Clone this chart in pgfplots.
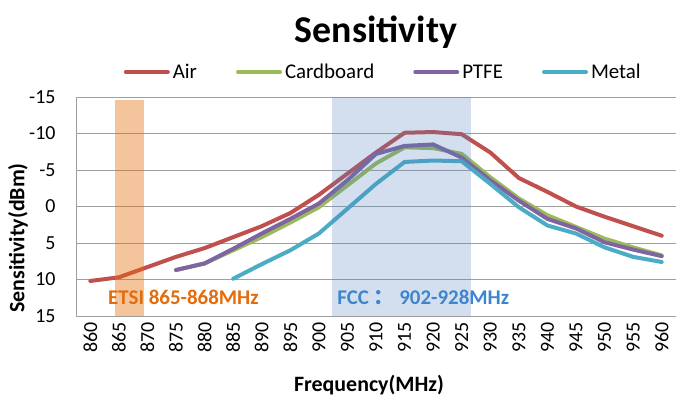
\documentclass[border=0pt]{standalone}
\usepackage{pgfplots}
\pgfplotsset{compat=1.18}
\usepackage{fontspec}
\setmainfont{Carlito}
\newfontfamily\cjk{Noto Sans CJK SC}
\definecolor{cAir}{HTML}{C0504D}
\definecolor{cCard}{HTML}{9BBB59}
\definecolor{cPTFE}{HTML}{8064A2}
\definecolor{cMetal}{HTML}{4BACC6}
\definecolor{cOrange}{HTML}{E46C0A}
\definecolor{cBand}{HTML}{4F81BD}
\definecolor{cFCC}{HTML}{3A86D4}
\begin{document}
\begin{tikzpicture}
\path[use as bounding box] (0,0) rectangle (690bp,398bp);
\begin{axis}[
  at={(76bp,82bp)}, anchor=south west,
  scale only axis, width=600bp, height=219bp,
  xmin=857.5, xmax=962.5,
  ymin=-15, ymax=15, y dir=reverse,
  xtick={860,865,...,960}, ytick={-15,-10,...,15},
  /pgf/number format/assume math mode=true,
  /pgf/number format/1000 sep={},
  ticklabel style={font=\fontsize{20}{20}\selectfont, text=black},
  x tick label style={rotate=90, anchor=east},
  xticklabel shift=3bp, yticklabel shift=17bp,
  major tick length=0pt,
  ymajorgrids, grid style={gray!75, line width=1bp},
  separate axis lines,
  axis x line*=bottom, axis y line*=left,
  axis line style={gray!75, line width=1bp, -},
  legend columns=4,
  legend style={at={(0.513,1.114)}, anchor=center, draw=none, fill=none,
    font=\fontsize{21}{21}\selectfont,
    /tikz/every even column/.append style={column sep=36bp},
    nodes={inner sep=3bp}},
  legend image code/.code={\draw[#1] (0bp,0bp) -- (42bp,0bp);},
  every axis plot/.append style={line width=4bp, line join=round, line cap=round},
]
\addplot[cAir] coordinates {
(860,10.2) (865,9.7) (870,8.3) (875,6.9) (880,5.7) (885,4.2) (890,2.7) (895,0.9)
(900,-1.6) (905,-4.5) (910,-7.4) (915,-10.1) (920,-10.2) (925,-9.9) (930,-7.4)
(935,-3.9) (940,-2.0) (945,0.0) (950,1.4) (955,2.7) (960,4.0)};
\addlegendentry{Air}
\addplot[cCard] coordinates {
(875,8.7) (880,7.8) (885,6.0) (890,4.2) (895,2.2) (900,0.1) (905,-2.9) (910,-5.9)
(915,-8.1) (920,-8.0) (925,-7.2) (930,-4.0) (935,-1.1) (940,1.2) (945,2.8)
(950,4.4) (955,5.6) (960,6.7)};
\addlegendentry{Cardboard}
\addplot[cPTFE] coordinates {
(875,8.7) (880,7.8) (885,5.8) (890,3.7) (895,1.7) (900,-0.4) (905,-3.6) (910,-7.2)
(915,-8.3) (920,-8.5) (925,-6.7) (930,-3.6) (935,-0.8) (940,1.7) (945,3.0)
(950,4.9) (955,5.9) (960,6.8)};
\addlegendentry{PTFE}
\addplot[cMetal] coordinates {
(885,9.9) (890,7.9) (895,6.0) (900,3.7) (905,0.3) (910,-3.1) (915,-6.1) (920,-6.3)
(925,-6.2) (930,-3.1) (935,0.1) (940,2.6) (945,3.7) (950,5.6) (955,6.9) (960,7.6)};
\addlegendentry{Metal}
\node[anchor=west, inner sep=0pt, text=cOrange, font=\fontsize{21}{21}\selectfont\bfseries]
  at (axis cs:863.1,12.4) {ETSI 865-868MHz};
\node[anchor=west, inner sep=0pt, text=cFCC, font=\fontsize{21}{21}\selectfont\bfseries]
  at (axis cs:903.2,12.4) {FCC {\cjk ：} 902-928MHz};
\addplot[forget plot, draw=none, fill=cOrange, fill opacity=0.4]
  coordinates {(864.3,-14.6) (869.4,-14.6) (869.4,15) (864.3,15)} -- cycle;
\addplot[forget plot, draw=none, fill=cBand, fill opacity=0.25]
  coordinates {(902.3,-15) (926.6,-15) (926.6,15) (902.3,15)} -- cycle;
\end{axis}
\node[font=\fontsize{38}{38}\selectfont\bfseries] at (376bp,366bp) {Sensitivity};
\node[font=\fontsize{22}{22}\selectfont\bfseries] at (369bp,13bp) {Frequency(MHz)};
\node[font=\fontsize{22}{22}\selectfont\bfseries, rotate=90] at (18bp,160bp) {Sensitivity(dBm)};
\end{tikzpicture}
\end{document}
